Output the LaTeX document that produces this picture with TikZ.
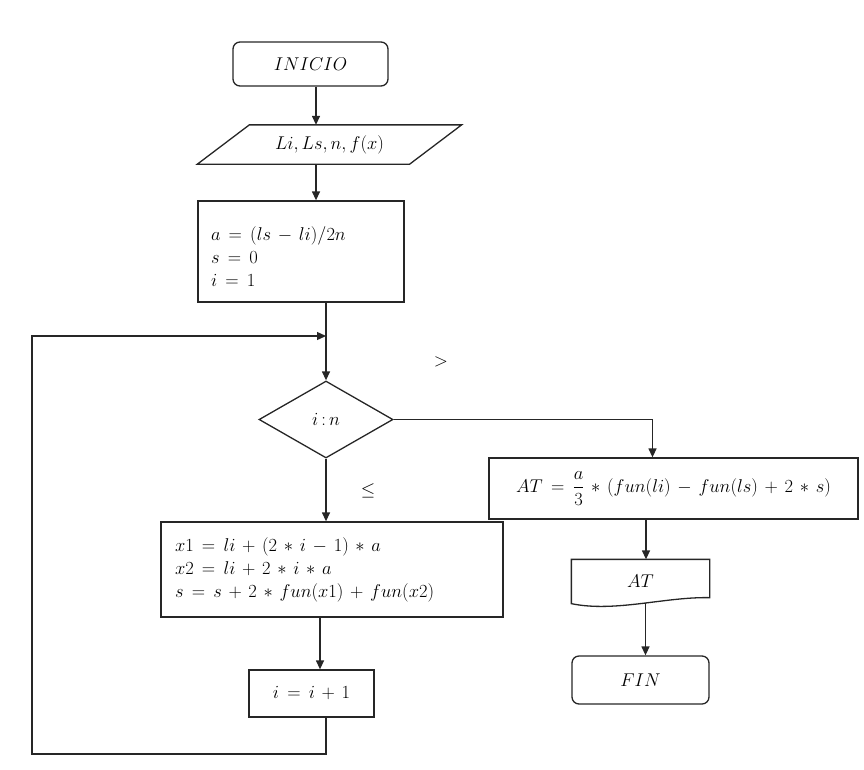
\RequirePackage{fix-cm}
\documentclass[tikz,border=0pt]{standalone}
\usepackage{amsmath}
\usetikzlibrary{shapes.geometric,arrows.meta}
\newcommand{\flujofont}{\fontsize{18.5}{23}\selectfont
  \thickmuskip=8mu plus 5mu\relax\medmuskip=6.5mu plus 2mu minus 4mu\relax}

\begin{document}
\begin{tikzpicture}[x=1pt, y=-1pt, line width=1.3pt, color=black!85,
  every node/.style={font=\flujofont, text=black, inner sep=2pt},
  term/.style={draw, rounded corners=7pt, minimum width=137pt, minimum height=48pt},
  caja/.style={draw, minimum width=#1},
  decision/.style={draw, diamond, aspect=1.74, minimum width=134pt, minimum height=77pt, inner sep=0pt},
  flecha/.style={-{Triangle[length=9pt,width=8pt]}}
]
\useasboundingbox (0,0) rectangle (864,769);

\node[term, minimum width=155pt, minimum height=44pt] (inicio) at (310.5,64) {$INICIO$};
\node[minimum width=211pt, minimum height=38pt] (datos) at (329.5,144.5) {$Li,Ls,n,f(x)$};
\draw ([xshift=26pt]datos.north west) -- ([xshift=26pt]datos.north east)
  -- ([xshift=-26pt]datos.south east) -- ([xshift=-26pt]datos.south west) -- cycle;
\node[caja=206pt, minimum height=101pt, text width=180pt, align=left] (init) at (301,251.5)
  {\mbox{}\\ $a=(ls-li)/2n$\\ $s=0$\\ $i=1$};
\node[decision] (cond) at (326,419.5) {$i\,{:}\,n$};
\node[caja=369pt, minimum height=61pt] (res) at (673.5,488.5)
  {$AT=\dfrac{a}{3}*(fun(li)-fun(ls)+2*s)$};
\node[caja=342pt, minimum height=95pt, text width=314pt, align=left] (calc) at (332,569.5)
  {$x1=li+(2*i-1)*a$\\ $x2=li+2*i*a$\\ $s=s+2*fun(x1)+fun(x2)$};
\node[caja=125pt, minimum height=47pt] (inc) at (311.5,693.5) {$i=i+1$};
\node[minimum width=137pt, minimum height=42pt] (out) at (640.5,581) {$AT$};
\draw (out.south west) -- (out.north west) -- (out.north east) -- ([yshift=5pt]out.south east)
  .. controls ([xshift=24.5pt,yshift=6pt]out.south) and ([xshift=-25.5pt,yshift=-10pt]out.south)
  .. ([yshift=-1pt]out.south west) -- cycle;
\node[term] (fin) at (640.5,680) {$FIN$};

\node (mayor) at (441,362) {$>$};
\node (menor) at (368,491) {$\leq$};

\coordinate (join) at (326,336);
\coordinate (loopc) at (32,754);

\draw[flecha] ([xshift=5.5pt]inicio.south) -- ([xshift=-13.5pt]datos.north);
\draw[flecha] ([xshift=-13.5pt]datos.south) -- ([xshift=15pt]init.north);
\draw[flecha] (init.south -| cond.north) -- (cond.north);
\draw[flecha] (cond.east) -| ([xshift=-21pt]res.north);
\draw[flecha] (cond.south) -- (cond.south |- calc.north);
\draw[flecha] ([xshift=8.5pt]inc.north |- calc.south) -- ([xshift=8.5pt]inc.north);
\draw[flecha] ([xshift=14.5pt]inc.south) |- (loopc) |- (join);
\draw[flecha] ([xshift=5.5pt]out.north |- res.south) -- ([xshift=5.5pt]out.north);
\draw[flecha] ([xshift=5pt]out.south) -- ([xshift=5pt]fin.north);
\end{tikzpicture}
\end{document}
